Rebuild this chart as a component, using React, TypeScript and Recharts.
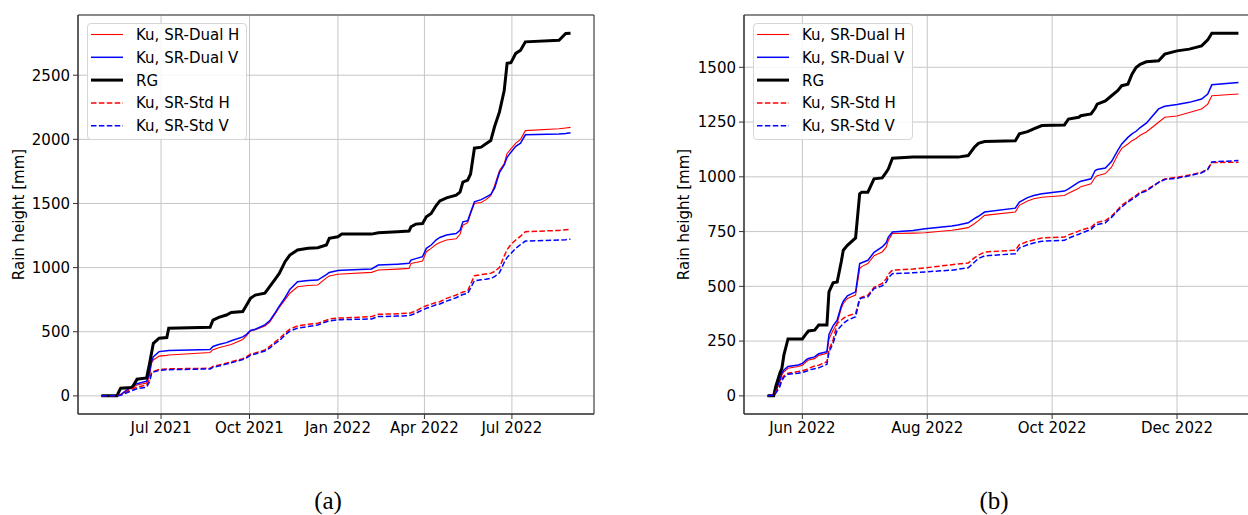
import React from "react";
import { LineChart, Line, XAxis, YAxis, CartesianGrid, Legend, ReferenceArea } from "recharts";

// ---------- Panel (a) data ----------
const leftDates = [
  "2021-04-30", "2021-05-16", "2021-05-20", "2021-06-01", "2021-06-06", "2021-06-16", "2021-06-19", "2021-06-21",
  "2021-06-23", "2021-06-29", "2021-07-07", "2021-07-09", "2021-08-21", "2021-08-24", "2021-08-30", "2021-09-07",
  "2021-09-12", "2021-09-24", "2021-09-28", "2021-10-02", "2021-10-07", "2021-10-17", "2021-10-22", "2021-10-27",
  "2021-11-01", "2021-11-07", "2021-11-12", "2021-11-20", "2021-12-01", "2021-12-11", "2021-12-20", "2021-12-23",
  "2022-01-01", "2022-01-05", "2022-02-05", "2022-02-12", "2022-03-04", "2022-03-16", "2022-03-18", "2022-03-23",
  "2022-03-30", "2022-04-03", "2022-04-08", "2022-04-13", "2022-04-17", "2022-04-24", "2022-05-04", "2022-05-08",
  "2022-05-11", "2022-05-16", "2022-05-19", "2022-05-23", "2022-05-30", "2022-06-04", "2022-06-09", "2022-06-13",
  "2022-06-18", "2022-06-23", "2022-06-26", "2022-06-30", "2022-07-05", "2022-07-10", "2022-07-15", "2022-08-19",
  "2022-08-26", "2022-08-31",
];
const leftRG = [
  0, 0, 60, 65, 130, 140, 250, 330, 410, 450, 455, 527, 535, 590, 612, 630,
  650, 657, 708, 760, 786, 800, 851, 903, 955, 1046, 1098, 1137, 1150, 1155, 1176, 1228,
  1240, 1261, 1261, 1272, 1280, 1285, 1318, 1339, 1344, 1396, 1422, 1482, 1520, 1544, 1565, 1589,
  1667, 1682, 1730, 1931, 1939, 1965, 1990, 2100, 2212, 2380, 2593, 2598, 2670, 2695, 2760, 2773,
  2825, 2828,
];
const leftDualH = [
  0, 0, 8, 70, 85, 100, 160, 254, 280, 310, 316, 318, 338, 360, 375, 390,
  400, 440, 470, 505, 515, 545, 575, 630, 690, 750, 800, 851, 860, 864, 920, 935,
  948, 950, 963, 981, 988, 994, 1033, 1040, 1051, 1124, 1150, 1180, 1195, 1215, 1225, 1260,
  1331, 1350, 1420, 1500, 1508, 1530, 1560, 1640, 1755, 1812, 1890, 1925, 1970, 2000, 2068, 2082,
  2088, 2093,
];
const leftDualV = [
  0, 0, 10, 78, 95, 115, 180, 267, 306, 345, 352, 353, 362, 385, 400, 415,
  430, 460, 480, 510, 520, 553, 585, 640, 700, 765, 830, 890, 900, 903, 945, 962,
  977, 980, 989, 1020, 1027, 1033, 1059, 1070, 1085, 1150, 1176, 1215, 1235, 1254, 1265, 1290,
  1357, 1365, 1430, 1513, 1530, 1550, 1570, 1620, 1740, 1800, 1860, 1900, 1945, 1970, 2035, 2042,
  2046, 2051,
];
const leftStdH = [
  0, 0, 8, 55, 68, 85, 130, 176, 190, 205, 210, 211, 215, 230, 240, 255,
  265, 290, 305, 325, 335, 358, 385, 418, 445, 488, 520, 545, 558, 566, 590, 600,
  606, 607, 618, 636, 640, 644, 648, 662, 690, 703, 715, 728, 734, 760, 786, 800,
  810, 818, 870, 937, 945, 950, 955, 970, 1000, 1090, 1140, 1181, 1215, 1245, 1280, 1290,
  1295, 1298,
];
const leftStdV = [
  0, 0, 5, 42, 55, 68, 110, 169, 185, 198, 203, 204, 210, 222, 232, 248,
  258, 283, 297, 316, 327, 350, 372, 405, 430, 475, 505, 528, 540, 553, 578, 585,
  593, 594, 600, 618, 622, 626, 630, 644, 670, 683, 695, 710, 716, 739, 765, 780,
  790, 799, 840, 898, 905, 910, 916, 930, 960, 1040, 1080, 1110, 1150, 1180, 1207, 1215,
  1218, 1222,
];
const leftXTicks = ["2021-07-01", "2021-10-01", "2022-01-01", "2022-04-01", "2022-07-01"];
const leftYTicks = [0, 500, 1000, 1500, 2000, 2500];

// ---------- Panel (b) data ----------
const rightDates = [
  "2022-05-15", "2022-05-18", "2022-05-19", "2022-05-21", "2022-05-22", "2022-05-23", "2022-05-25", "2022-05-30",
  "2022-06-01", "2022-06-03", "2022-06-04", "2022-06-07", "2022-06-09", "2022-06-13", "2022-06-14", "2022-06-16",
  "2022-06-18", "2022-06-20", "2022-06-21", "2022-06-23", "2022-06-27", "2022-06-29", "2022-06-30", "2022-07-03",
  "2022-07-06", "2022-07-10", "2022-07-12", "2022-07-13", "2022-07-15", "2022-07-25", "2022-07-31", "2022-08-13",
  "2022-08-16", "2022-08-21", "2022-08-24", "2022-08-26", "2022-08-29", "2022-09-13", "2022-09-15", "2022-09-19",
  "2022-09-22", "2022-09-26", "2022-10-07", "2022-10-09", "2022-10-14", "2022-10-15", "2022-10-20", "2022-10-22",
  "2022-10-23", "2022-10-27", "2022-10-30", "2022-11-02", "2022-11-04", "2022-11-07", "2022-11-09", "2022-11-11",
  "2022-11-13", "2022-11-16", "2022-11-22", "2022-11-25", "2022-12-01", "2022-12-07", "2022-12-13", "2022-12-16",
  "2022-12-18", "2022-12-31",
];
const rightRG = [
  0, 0, 42, 103, 126, 187, 260, 260, 260, 285, 296, 300, 323, 323, 475, 516,
  520, 612, 665, 687, 721, 923, 930, 930, 991, 995, 1021, 1036, 1085, 1090, 1090, 1090,
  1090, 1097, 1135, 1153, 1161, 1165, 1196, 1206, 1219, 1234, 1237, 1264, 1272, 1279, 1287, 1313,
  1332, 1347, 1370, 1393, 1416, 1423, 1469, 1499, 1514, 1525, 1530, 1560, 1575, 1583, 1598, 1625,
  1656, 1656,
];
const rightDualH = [
  0, 5, 20, 65, 95, 110, 126, 134, 140, 157, 164, 170, 185, 194, 260, 300,
  331, 400, 422, 445, 460, 581, 590, 604, 640, 657, 680, 710, 741, 743, 745, 756,
  760, 768, 786, 800, 824, 839, 870, 890, 900, 907, 915, 925, 948, 955, 968, 998,
  1005, 1015, 1044, 1100, 1130, 1150, 1165, 1175, 1190, 1205, 1249, 1272, 1278, 1294, 1310, 1332,
  1370, 1378,
];
const rightDualV = [
  0, 5, 22, 73, 105, 118, 134, 141, 148, 165, 171, 178, 192, 202, 280, 320,
  346, 410, 432, 457, 475, 604, 608, 619, 655, 680, 700, 725, 748, 755, 763, 775,
  780, 790, 809, 820, 839, 857, 885, 905, 915, 923, 935, 945, 976, 980, 991, 1029,
  1033, 1040, 1070, 1120, 1150, 1180, 1196, 1208, 1225, 1245, 1310, 1322, 1330, 1340, 1355, 1378,
  1420, 1431,
];
const rightStdH = [
  0, 5, 18, 50, 78, 92, 103, 111, 115, 120, 126, 136, 140, 156, 210, 255,
  331, 345, 354, 365, 376, 445, 450, 460, 495, 513, 535, 555, 574, 579, 584, 599,
  602, 606, 630, 642, 657, 665, 690, 705, 712, 721, 725, 735, 752, 757, 770, 786,
  792, 800, 820, 850, 870, 890, 903, 915, 930, 940, 975, 990, 998, 1008, 1021, 1036,
  1065, 1067,
];
const rightStdV = [
  0, 3, 12, 42, 70, 85, 99, 103, 107, 112, 118, 124, 128, 144, 200, 240,
  300, 320, 331, 345, 361, 442, 447, 452, 490, 502, 520, 540, 558, 562, 566, 574,
  578, 585, 610, 627, 639, 649, 675, 690, 698, 706, 710, 720, 738, 742, 760, 778,
  782, 790, 815, 845, 862, 885, 897, 910, 925, 935, 975, 988, 994, 1005, 1018, 1033,
  1068, 1074,
];
const rightXTicks = ["2022-06-01", "2022-08-01", "2022-10-01", "2022-12-01"];
const rightYTicks = [0, 250, 500, 750, 1000, 1250, 1500];

// ---------- Series styling ----------
const SERIES = [
  { key: "dualH", name: "Ku, SR-Dual H", color: "#ff0000", width: 1.1, dash: undefined as string | undefined },
  { key: "dualV", name: "Ku, SR-Dual V", color: "#0000ff", width: 1.5, dash: undefined as string | undefined },
  { key: "rg", name: "RG", color: "#000000", width: 3, dash: undefined as string | undefined },
  { key: "stdH", name: "Ku, SR-Std H", color: "#ff0000", width: 1.5, dash: "5.5 2.4" },
  { key: "stdV", name: "Ku, SR-Std V", color: "#0000ff", width: 1.5, dash: "5.5 2.4" },
];

const MONTHS = ["Jan", "Feb", "Mar", "Apr", "May", "Jun", "Jul", "Aug", "Sep", "Oct", "Nov", "Dec"];
const toTs = (s: string) => Date.parse(s + "T00:00:00Z");
const fmtDate = (v: number) => {
  const d = new Date(v);
  return `${MONTHS[d.getUTCMonth()]} ${d.getUTCFullYear()}`;
};
const FONT = "'DejaVu Sans', sans-serif";

function buildRows(dates: string[], rg: number[], dH: number[], dV: number[], sH: number[], sV: number[]) {
  return dates.map((d, i) => ({ t: toTs(d), rg: rg[i], dualH: dH[i], dualV: dV[i], stdH: sH[i], stdV: sV[i] }));
}
function pad(min: number, max: number): [number, number] {
  const s = max - min;
  return [min - 0.05 * s, max + 0.05 * s];
}

const LegendBox = () => (
  <div
    style={{
      width: 160,
      height: 117,
      boxSizing: "border-box",
      border: "1px solid #d6d6d6",
      borderRadius: 4,
      background: "rgba(255,255,255,0.85)",
    }}
  >
    <svg width={158} height={115} style={{ display: "block" }}>
      {SERIES.map((s, i) => {
        const cy = 10.5 + i * 22.8;
        return (
          <g key={s.key}>
            <line x1={3} x2={35} y1={cy} y2={cy} stroke={s.color} strokeWidth={s.width} strokeDasharray={s.dash} />
            <text x={48} y={cy + 5.5} fontFamily={FONT} fontSize={15} fill="#000">
              {s.name}
            </text>
          </g>
        );
      })}
    </svg>
  </div>
);

type PanelProps = {
  rows: ReturnType<typeof buildRows>;
  xTicks: string[];
  yTicks: number[];
  width: number;
  yAxisWidth: number;
  marginRight: number;
};

function Panel({ rows, xTicks, yTicks, width, yAxisWidth, marginRight }: PanelProps) {
  const ts = rows.map((r) => r.t);
  const xDom = pad(Math.min(...ts), Math.max(...ts));
  const allY = rows.flatMap((r) => [r.rg, r.dualH, r.dualV, r.stdH, r.stdV]);
  const yDom = pad(Math.min(...allY), Math.max(...allY));
  const tickStyle = { fontFamily: FONT, fontSize: 15, fill: "#000" };
  return (
    <LineChart width={width} height={460} data={rows} margin={{ top: 15, right: marginRight, bottom: 16, left: 0 }}>
      <CartesianGrid stroke="#c6c6c6" strokeWidth={1} />
      <XAxis
        dataKey="t"
        type="number"
        domain={xDom}
        allowDataOverflow
        ticks={xTicks.map(toTs)}
        tickFormatter={fmtDate}
        height={30}
        tickSize={5}
        tickMargin={3}
        tick={tickStyle}
        stroke="#333"
        interval={0}
      />
      <YAxis
        type="number"
        domain={yDom}
        allowDataOverflow
        ticks={yTicks}
        width={yAxisWidth}
        tickSize={5}
        tickMargin={3}
        tick={tickStyle}
        stroke="#333"
        interval={0}
      />
      <ReferenceArea x1={xDom[0]} x2={xDom[1]} y1={yDom[0]} y2={yDom[1]} fill="none" stroke="#333" strokeWidth={1} />
      {SERIES.map((s) => (
        <Line
          key={s.key}
          type="linear"
          dataKey={s.key}
          name={s.name}
          stroke={s.color}
          strokeWidth={s.width}
          strokeDasharray={s.dash}
          dot={false}
          activeDot={false}
          isAnimationActive={false}
        />
      ))}
      <Legend
        layout="vertical"
        align="center"
        verticalAlign="middle"
        content={() => <LegendBox />}
        wrapperStyle={{ left: yAxisWidth + 9, top: 23, width: 160, height: 117 }}
      />
    </LineChart>
  );
}

const leftRows = buildRows(leftDates, leftRG, leftDualH, leftDualV, leftStdH, leftStdV);
const rightRows = buildRows(rightDates, rightRG, rightDualH, rightDualV, rightStdH, rightStdV);

export default function App() {
  return (
    <div
      style={{
        position: "absolute",
        left: 0,
        top: 0,
        width: 1248,
        height: 515,
        overflow: "hidden",
        background: "#fff",
      }}
    >
      <div style={{ position: "absolute", left: 0, top: 0 }}>
        <Panel rows={leftRows} xTicks={leftXTicks} yTicks={leftYTicks} width={610} yAxisWidth={78} marginRight={16} />
      </div>
      <div style={{ position: "absolute", left: 660, top: 0 }}>
        <Panel rows={rightRows} xTicks={rightXTicks} yTicks={rightYTicks} width={612} yAxisWidth={84} marginRight={10} />
      </div>
      <svg width={1248} height={515} style={{ position: "absolute", left: 0, top: 0, pointerEvents: "none" }}>
        <text transform="translate(19,214.5) rotate(-90)" textAnchor="middle" dominantBaseline="central" fontFamily={FONT} fontSize={15} fill="#000">
          Rain height [mm]
        </text>
        <text transform="translate(684,214.5) rotate(-90)" textAnchor="middle" dominantBaseline="central" fontFamily={FONT} fontSize={15} fill="#000">
          Rain height [mm]
        </text>
        <text x={328} y={509} textAnchor="middle" fontFamily="'Liberation Serif', serif" fontSize={25} fill="#000">
          (a)
        </text>
        <text x={994} y={509} textAnchor="middle" fontFamily="'Liberation Serif', serif" fontSize={25} fill="#000">
          (b)
        </text>
      </svg>
    </div>
  );
}
